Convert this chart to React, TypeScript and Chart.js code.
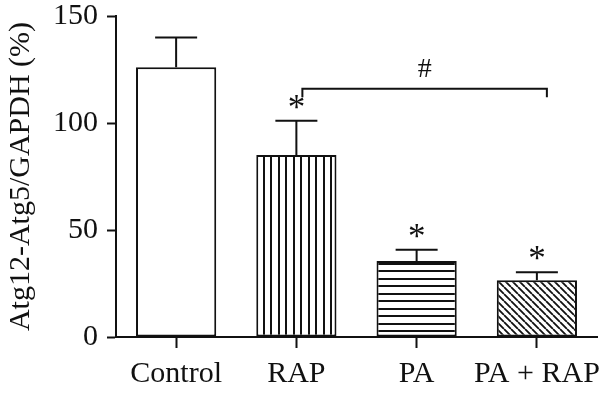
import React, { useEffect, useRef } from "react";
import { Chart, registerables } from "chart.js";

Chart.register(...registerables);

const categories = ["Control", "RAP", "PA", "PA + RAP"];
const means = [126, 85, 35.5, 26.5];
const errors = [14, 16, 5.3, 3.7];
const stars = ["", "*", "*", "*"];
const yTicks = [0, 50, 100, 150];
const bracketFrom = 1;
const bracketTo = 3;
const bracketValue = 116;
const bracketDrop = 112;
const bracketLabel = "#";
const yTitle = "Atg12-Atg5/GAPDH (%)";

const FONT = "'Liberation Serif', 'Times New Roman', serif";

function makePattern(kind: string): CanvasPattern | string {
  const c = document.createElement("canvas");
  const s = kind === "diag" ? 7 : 15;
  c.width = s;
  c.height = s;
  const g = c.getContext("2d")!;
  g.fillStyle = "#fff";
  g.fillRect(0, 0, s, s);
  g.fillStyle = "#111";
  g.strokeStyle = "#111";
  if (kind === "vert") {
    g.fillRect(0, 0, 2, s);
    g.fillRect(8, 0, 2, s);
  } else if (kind === "horiz") {
    g.fillRect(0, 0, s, 2);
    g.fillRect(0, 8, s, 2);
  } else if (kind === "diag") {
    g.lineWidth = 1.8;
    g.beginPath();
    for (let k = -1; k <= 1; k++) {
      g.moveTo(k * s, 0);
      g.lineTo(k * s + s, s);
    }
    g.stroke();
  } else {
    return "#fff";
  }
  const p = g.createPattern(c, "repeat");
  return p || "#fff";
}

const overlayPlugin = {
  id: "overlay",
  afterDatasetsDraw(chart: any) {
    const ctx = chart.ctx;
    const y = chart.scales.y;
    const meta = chart.getDatasetMeta(0);
    ctx.save();
    ctx.strokeStyle = "#111";
    ctx.fillStyle = "#111";
    ctx.lineWidth = 2;
    for (let i = 0; i < means.length; i++) {
      const x = meta.data[i].x;
      const yBar = y.getPixelForValue(means[i]);
      const yTop = y.getPixelForValue(means[i] + errors[i]);
      ctx.beginPath();
      ctx.moveTo(x, yBar);
      ctx.lineTo(x, yTop);
      ctx.moveTo(x - 21, yTop);
      ctx.lineTo(x + 21, yTop);
      ctx.stroke();
      if (stars[i]) {
        ctx.font = `35px ${FONT}`;
        ctx.textAlign = "center";
        ctx.textBaseline = "alphabetic";
        ctx.fillText(stars[i], x, yTop - 2);
      }
    }
    const x1 = meta.data[bracketFrom].x + 6;
    const x2 = meta.data[bracketTo].x + 10;
    const yb = y.getPixelForValue(bracketValue);
    const yd = y.getPixelForValue(bracketDrop);
    ctx.beginPath();
    ctx.moveTo(x1, yd);
    ctx.lineTo(x1, yb);
    ctx.lineTo(x2, yb);
    ctx.lineTo(x2, yd);
    ctx.stroke();
    ctx.font = `28px ${FONT}`;
    ctx.textAlign = "center";
    ctx.textBaseline = "alphabetic";
    ctx.fillText(bracketLabel, (x1 + x2) / 2, yb - 12);
    ctx.restore();
  },
};

export default function App() {
  const ref = useRef<HTMLCanvasElement>(null);
  useEffect(() => {
    if (!ref.current) return;
    const fills = [
      makePattern("none"),
      makePattern("vert"),
      makePattern("horiz"),
      makePattern("diag"),
    ];
    const chart = new Chart(ref.current, {
      type: "bar",
      data: {
        labels: categories,
        datasets: [
          {
            data: means,
            backgroundColor: fills as any,
            borderColor: "#111",
            borderWidth: 2,
            borderSkipped: false,
            categoryPercentage: 1,
            barPercentage: 0.667,
          },
        ],
      },
      options: {
        responsive: false,
        animation: false,
        events: [],
        layout: { padding: { top: 16, right: 3, left: 0, bottom: 0 } },
        plugins: { legend: { display: false }, tooltip: { enabled: false } },
        scales: {
          x: {
            offset: true,
            grid: {
              offset: false,
              drawOnChartArea: false,
              drawTicks: true,
              tickLength: 11,
              tickWidth: 2,
              tickColor: "#111",
            },
            border: { display: true, color: "#111", width: 2 },
            ticks: {
              color: "#111",
              padding: 8,
              maxRotation: 0,
              autoSkip: false,
              font: { family: FONT, size: 30 },
            },
            afterFit(scale: any) {
              scale.height = 57;
              scale.paddingLeft = 0;
              scale.paddingRight = 0;
            },
          },
          y: {
            min: 0,
            max: 150,
            afterBuildTicks(scale: any) {
              scale.ticks = yTicks.map((v) => ({ value: v }));
            },
            grid: {
              drawOnChartArea: false,
              drawTicks: true,
              tickLength: 9,
              tickWidth: 2,
              tickColor: "#111",
            },
            border: { display: true, color: "#111", width: 2 },
            ticks: {
              color: "#111",
              padding: 9,
              font: { family: FONT, size: 30 },
            },
            title: {
              display: true,
              text: yTitle,
              color: "#111",
              padding: { top: 3, bottom: 0 },
              font: { family: FONT, size: 30 },
            },
            afterFit(scale: any) {
              scale.width = 116;
              scale.paddingTop = 0;
              scale.paddingBottom = 0;
            },
          },
        },
      },
      plugins: [overlayPlugin],
    });
    return () => chart.destroy();
  }, []);
  return (
    <div style={{ position: "absolute", left: 0, top: 0, width: 600, height: 394, background: "#fff" }}>
      <canvas ref={ref} width={600} height={394} style={{ display: "block" }} />
    </div>
  );
}
